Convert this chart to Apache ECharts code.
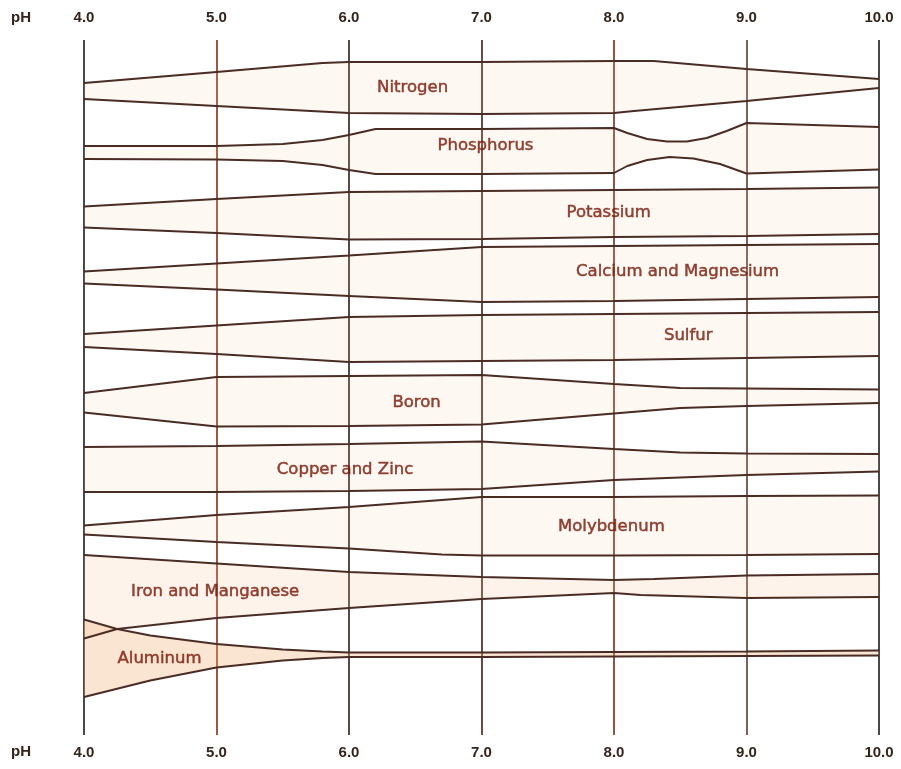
<!DOCTYPE html>
<html>
<head>
<meta charset="utf-8">
<script src="https://cdn.jsdelivr.net/npm/echarts@6/dist/echarts.min.js"></script>
<style>html,body{margin:0;padding:0;background:#fff;}#chart{width:901px;height:769px;}</style>
</head>
<body>
<div id="chart"></div>
<script>
// pH tick values
const phTicks = [4, 5, 6, 7, 8, 9, 10];
const nutrientNames = ['Nitrogen', 'Phosphorus', 'Potassium', 'Calcium and Magnesium', 'Sulfur', 'Boron', 'Copper and Zinc', 'Molybdenum', 'Iron and Manganese', 'Aluminum'];

// band boundaries: [pH, vertical position (row units, top = 40, bottom = 735)]
const nitrogenTop = [[4,83],[5,72],[5.8,63],[6,62],[7,62],[8,61],[8.3,61],[9,69],[10,79]];
const nitrogenBottom = [[4,99],[5,106],[6,113],[7,114],[8,113],[8.15,111],[9,101],[10,88]];
const phosphorusTop = [[4,146],[5,146],[5.5,144],[5.8,140],[6,135],[6.2,129],[7,129],[8,128],[8.1,133],[8.25,139],[8.4,141.5],[8.55,141.5],[8.7,138],[8.85,131],[9,123],[10,127]];
const phosphorusBottom = [[4,159],[5,159.5],[5.5,161],[5.8,165],[6,170],[6.2,174],[7,174],[8,173],[8.1,166],[8.25,160],[8.42,157],[8.6,158.5],[8.8,164],[9,173.5],[10,169.5]];
const potassiumTop = [[4,206.5],[5,199],[6,192],[7,191],[8,190],[9,189],[10,187.5]];
const potassiumBottom = [[4,227.5],[5,233],[6,239.5],[7,239],[8,237],[9,236],[10,234]];
const calciumTop = [[4,271.5],[5,263.5],[6,255.5],[7,247],[8,246],[9,245],[10,244]];
const calciumBottom = [[4,283.5],[5,289.5],[6,296],[7,302],[8,301],[9,299],[10,297]];
const sulfurTop = [[4,334],[5,325.5],[6,317],[7,315],[8,314],[9,313],[10,312]];
const sulfurBottom = [[4,347],[5,354],[6,362],[7,361],[8,360],[9,358],[10,356]];
const boronTop = [[4,393],[5,377],[6,376],[7,375],[8,384],[8.5,388],[9,388.5],[10,389.5]];
const boronBottom = [[4,412.5],[5,426.5],[6,426],[7,424.5],[8,413.5],[8.5,408],[9,406],[10,403]];
const copperTop = [[4,447],[5,446],[6,444],[7,441.5],[8,449],[8.5,452.5],[9,453.5],[10,454]];
const copperBottom = [[4,492],[5,492],[6,491],[7,489],[8,480],[9,475],[10,471.5]];
const molybdenumTop = [[4,525.5],[5,515],[6,507],[7,497],[8,497],[9,496],[10,495.5]];
const molybdenumBottom = [[4,534.5],[5,542],[6,548.5],[6.7,554.5],[7,555.5],[8,555.5],[9,555],[10,554]];
const ironTop = [[4,555],[5,563.5],[6,572],[7,577],[8,580],[8.3,579],[9,575.5],[10,574]];
const ironBottom = [[4,638.5],[4.25,629],[5,618],[6,608],[7,599],[8,593],[8.2,595],[9,598],[10,597]];
const aluminumTop = [[4,619.5],[4.25,629],[4.5,635.5],[5,644],[5.5,649.5],[5.8,651.5],[6,652.5],[7,652.5],[8,652],[9,651.5],[10,650.5]];
const aluminumBottom = [[4,697],[4.5,680.5],[5,667.5],[5.5,660.5],[5.8,658],[6,657],[7,657],[8,656.5],[9,656],[10,655.5]];

// label anchor points [pH, row]
const labelPH = [6.48, 7.03, 7.96, 8.48, 8.56, 6.51, 5.97, 7.98, 4.99, 4.57];
const labelRow = [88, 146, 213, 272, 336, 403, 470, 527, 592, 659];

const bandTops = [nitrogenTop, phosphorusTop, potassiumTop, calciumTop, sulfurTop, boronTop, copperTop, molybdenumTop, ironTop, aluminumTop];
const bandBottoms = [nitrogenBottom, phosphorusBottom, potassiumBottom, calciumBottom, sulfurBottom, boronBottom, copperBottom, molybdenumBottom, ironBottom, aluminumBottom];

const chart = echarts.init(document.getElementById('chart'), null, {renderer: 'canvas'});

const LINE_COLOR = '#4a2c24';
const fillColors = nutrientNames.map((n, i) => i === 9 ? 'rgba(240,170,115,0.32)' : (i === 8 ? 'rgba(245,190,140,0.18)' : 'rgba(245,200,160,0.12)'));

const series = [];
series.push({
  type: 'custom',
  silent: true,
  xAxisIndex: 0,
  yAxisIndex: 0,
  data: bandTops.map((t, i) => [i]),
  renderItem: function (params, api) {
    const i = api.value(0);
    const pts = bandTops[i].map(p => api.coord(p)).concat(bandBottoms[i].slice().reverse().map(p => api.coord(p)));
    return {type: 'polygon', shape: {points: pts}, style: {fill: fillColors[i], stroke: null}, z2: 0};
  },
  z: 1
});
bandTops.forEach((t, i) => {
  [t, bandBottoms[i]].forEach(line => {
    series.push({
      type: 'line', data: line, symbol: 'none', silent: true, smooth: false,
      lineStyle: {color: LINE_COLOR, width: 1.9}, z: 3, animation: false
    });
  });
});
series.push({
  type: 'scatter',
  xAxisIndex: 0,
  yAxisIndex: 0,
  data: nutrientNames.map((n, i) => ({name: n, value: [labelPH[i], labelRow[i]]})),
  symbol: 'circle',
  symbolSize: 2,
  itemStyle: {color: 'rgba(0,0,0,0)'},
  silent: true,
  z: 5,
  labelLayout: {hideOverlap: false},
  label: {
    show: true, position: 'inside', formatter: '{b}',
    color: '#7a1806', fontSize: 16.5, fontFamily: 'DejaVu Sans',
    textBorderColor: '#7a1806', textBorderWidth: 0.5
  }
});

const vColors = ['#1f1a18', '#8a2c14', '#2f1a14', '#4d1a10', '#7a2a14', '#5a3a30', '#1f1a18'];
const axisLabelBase = {
  formatter: v => v.toFixed(1), color: '#35241c', fontSize: 15,
  fontFamily: 'Liberation Sans', fontWeight: 'bold'
};

chart.setOption({
  animation: false,
  backgroundColor: '#ffffff',
  grid: {left: 84, right: 22, top: 40, bottom: 34},
  graphic: [
    {type: 'text', left: 11, top: 10, silent: true, style: {text: 'pH', fill: '#35241c', font: 'bold 15px "Liberation Sans"'}},
    {type: 'text', left: 11, top: 744, silent: true, style: {text: 'pH', fill: '#35241c', font: 'bold 15px "Liberation Sans"'}}
  ],
  xAxis: [
    {
      type: 'value', min: phTicks[0], max: phTicks[phTicks.length - 1], interval: 1, position: 'bottom',
      axisLine: {show: false}, axisTick: {show: false},
      axisLabel: Object.assign({}, axisLabelBase, {margin: 10}),
      splitLine: {show: true, lineStyle: {color: vColors, width: 1.6}}
    },
    {
      type: 'value', min: phTicks[0], max: phTicks[phTicks.length - 1], interval: 1, position: 'top',
      axisLabel: Object.assign({}, axisLabelBase, {margin: 15}),
      axisLine: {show: false}, axisTick: {show: false},
      splitLine: {show: false}
    }
  ],
  yAxis: {type: 'value', min: 40, max: 735, inverse: true, show: false, splitLine: {show: false}},
  series: series
});
</script>
</body>
</html>
